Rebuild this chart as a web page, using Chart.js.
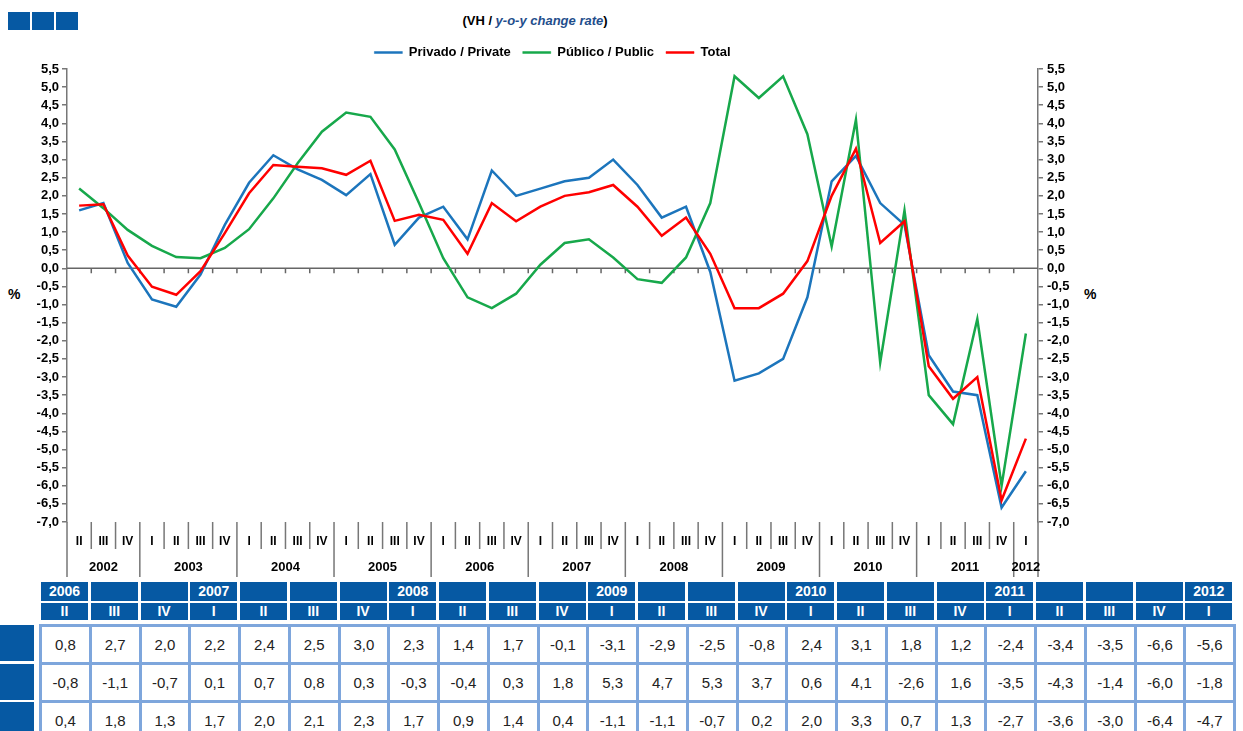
<!DOCTYPE html>
<html>
<head>
<meta charset="utf-8">
<script src="https://cdn.jsdelivr.net/npm/chart.js@4.4.1/dist/chart.umd.min.js"></script>
<style>
  body { margin: 0; background: #fff; font-family: Arial, "Liberation Sans", sans-serif; }
  #wrap { position: relative; width: 1243px; height: 731px; overflow: hidden; }
  #chart { position: absolute; left: 0; top: 0; }
  .sq { position: absolute; top: 12px; width: 22px; height: 18px; background: #0659a3; }
  #title { position: absolute; top: 13px; left: 0; width: 1070px; text-align: center; font-weight: bold; font-size: 13px; color: #000; }
  #title i { color: #1f4e8c; }
  .pct { position: absolute; top: 286px; font-weight: bold; font-size: 14px; }
  .hd { position: absolute; background: #0659a3; color: #fff; font-weight: bold; font-size: 14px; text-align: center; }
  .frame { position: absolute; background: #7ea6dc; }
  .cell { position: absolute; background: #fff; color: #222; font-size: 15px; text-align: center; }
  .rowlab { position: absolute; left: 0; width: 34px; background: #0659a3; }
</style>
</head>
<body>
<div id="wrap">
  <div class="sq" style="left:8px"></div>
  <div class="sq" style="left:32px"></div>
  <div class="sq" style="left:56px"></div>
  <div id="title">(VH / <i>y-o-y change rate</i>)</div>
  <div class="pct" style="left:8px">%</div>
  <div class="pct" style="left:1084px">%</div>
  <canvas id="chart" width="1243" height="580"></canvas>
  <div id="table"></div>
</div>
<script>
// Quarters 2002 II .. 2012 I
const quarters = ['II','III','IV',
  'I','II','III','IV', 'I','II','III','IV', 'I','II','III','IV',
  'I','II','III','IV', 'I','II','III','IV', 'I','II','III','IV',
  'I','II','III','IV', 'I','II','III','IV', 'I','II','III','IV',
  'I'];
const years = ['2002','2003','2004','2005','2006','2007','2008','2009','2010','2011','2012'];

// y-o-y change rate (%)
const privado = [1.6, 1.8, 0.15, -0.86, -1.06, -0.17, 1.2, 2.36, 3.12, 2.73, 2.44, 2.02, 2.6, 0.65, 1.4, 1.7,
  0.8, 2.7, 2.0, 2.2, 2.4, 2.5, 3.0, 2.3, 1.4, 1.7, -0.1, -3.1, -2.9, -2.5, -0.8, 2.4, 3.1, 1.8, 1.2, -2.4, -3.4, -3.5, -6.6, -5.6];
const publico = [2.2, 1.66, 1.06, 0.62, 0.31, 0.28, 0.56, 1.08, 1.93, 2.9, 3.77, 4.3, 4.18, 3.28, 1.8, 0.28,
  -0.8, -1.1, -0.7, 0.1, 0.7, 0.8, 0.3, -0.3, -0.4, 0.3, 1.8, 5.3, 4.7, 5.3, 3.7, 0.6, 4.1, -2.6, 1.6, -3.5, -4.3, -1.4, -6.0, -1.8];
const total = [1.73, 1.77, 0.35, -0.51, -0.73, -0.08, 0.97, 2.07, 2.85, 2.8, 2.76, 2.58, 2.97, 1.31, 1.48, 1.34,
  0.4, 1.8, 1.3, 1.7, 2.0, 2.1, 2.3, 1.7, 0.9, 1.4, 0.4, -1.1, -1.1, -0.7, 0.2, 2.0, 3.3, 0.7, 1.3, -2.7, -3.6, -3.0, -6.4, -4.7];

const tableStart = 16; // table shows 2006 II onwards

// year of each quarter
const yearOf = [];
let yi = 0;
quarters.forEach((q, i) => {
    if (q === 'I' && i > 0) yi++;
    yearOf.push(years[yi]);
});

const fmt = v => v.toFixed(1).replace('.', ',');

// Draws zero line, quarter / year separators and year labels
const axisDecor = {
    id: 'axisDecor',
    beforeDatasetsDraw(chart) {
        const { ctx, chartArea: a, scales: { x, y } } = chart;
        const y0 = y.getPixelForValue(0);
        ctx.save();
        ctx.strokeStyle = '#666';
        ctx.lineWidth = 1.5;
        ctx.beginPath();
        ctx.moveTo(a.left, y0);
        ctx.lineTo(a.right, y0);
        for (let i = 1; i < quarters.length; i++) {
            const bx = (x.getPixelForValue(i - 1) + x.getPixelForValue(i)) / 2;
            ctx.moveTo(bx, y0);
            ctx.lineTo(bx, y0 + 5);
        }
        ctx.stroke();
        ctx.restore();
    },
    afterDraw(chart) {
        const { ctx, chartArea: a, scales: { x } } = chart;
        const bottom = chart.height - 3;
        ctx.save();
        ctx.strokeStyle = '#777';
        ctx.lineWidth = 1.5;
        ctx.beginPath();
        // axis extensions
        ctx.moveTo(a.left, a.bottom); ctx.lineTo(a.left, bottom);
        ctx.moveTo(a.right, a.bottom); ctx.lineTo(a.right, bottom);
        for (let i = 1; i < quarters.length; i++) {
            const bx = (x.getPixelForValue(i - 1) + x.getPixelForValue(i)) / 2;
            ctx.moveTo(bx, a.bottom);
            ctx.lineTo(bx, quarters[i] === 'I' ? bottom : a.bottom + 27);
        }
        ctx.stroke();

        // year labels
        ctx.fillStyle = '#000';
        ctx.font = 'bold 13px Arial, "Liberation Sans", sans-serif';
        ctx.textAlign = 'center';
        ctx.textBaseline = 'middle';
        years.forEach(yr => {
            const idx = yearOf.map((v, i) => v === yr ? i : -1).filter(i => i >= 0);
            const cx = (x.getPixelForValue(idx[0]) + x.getPixelForValue(idx[idx.length - 1])) / 2;
            ctx.fillText(yr, cx, a.bottom + 45);
        });
        ctx.restore();
    }
};

const tickFont = { family: 'Arial, "Liberation Sans", sans-serif', size: 13, weight: 'bold' };

new Chart(document.getElementById('chart'), {
    type: 'line',
    data: {
        labels: quarters,
        datasets: [
            { label: 'Privado / Private', data: privado, borderColor: '#1c75bc', backgroundColor: '#1c75bc', order: 2 },
            { label: 'Público / Public', data: publico, borderColor: '#17a84b', backgroundColor: '#17a84b', order: 1 },
            { label: 'Total', data: total, borderColor: '#ff0000', backgroundColor: '#ff0000', order: 0 }
        ]
    },
    options: {
        responsive: false,
        animation: false,
        layout: { padding: { top: 34, left: 0, right: 0, bottom: 0 } },
        elements: {
            line: { borderWidth: 2.5, tension: 0 },
            point: { radius: 0 }
        },
        plugins: {
            tooltip: { enabled: false },
            legend: {
                fullSize: false,
                labels: {
                    color: '#000',
                    font: tickFont,
                    boxWidth: 28,
                    boxHeight: 2,
                    padding: 12,
                    sort: (p, q) => p.datasetIndex - q.datasetIndex,
                    generateLabels: chart => Chart.defaults.plugins.legend.labels.generateLabels(chart)
                        .map(l => Object.assign(l, { lineWidth: 0.5 }))
                }
            }
        },
        scales: {
            x: {
                offset: true,
                grid: { display: false, drawTicks: false, offset: true },
                border: { display: false },
                ticks: { color: '#000', font: { ...tickFont, size: 12 }, padding: 12, autoSkip: false, maxRotation: 0 },
                afterFit: s => { s.height = 58; }
            },
            y: {
                position: 'left',
                min: -7, max: 5.5,
                grid: { drawOnChartArea: false, tickLength: 5, color: '#777', lineWidth: 1.5 },
                border: { color: '#777', width: 1.5 },
                ticks: { stepSize: 0.5, autoSkip: false, color: '#000', font: tickFont, padding: 3, callback: v => fmt(v) },
                afterFit: s => { s.width = 67; }
            },
            y1: {
                position: 'right',
                min: -7, max: 5.5,
                grid: { drawOnChartArea: false, tickLength: 5, color: '#777', lineWidth: 1.5 },
                border: { color: '#777', width: 1.5 },
                ticks: { stepSize: 0.5, autoSkip: false, color: '#000', font: tickFont, padding: 4, callback: v => fmt(v) },
                afterFit: s => { s.width = 205; }
            }
        }
    },
    plugins: [axisDecor]
});

// Data table (2006 II - 2012 I)
const table = document.getElementById('table');
const pitch = 49.75;
const rows = [privado, publico, total];

function addDiv(cls, style, text) {
    const d = document.createElement('div');
    d.className = cls;
    Object.assign(d.style, style);
    if (text) d.textContent = text;
    table.appendChild(d);
    return d;
}

quarters.slice(tableStart).forEach((q, k) => {
    const i = tableStart + k;
    const left = 41 + k * pitch;
    const showYear = k === 0 || q === 'I';
    addDiv('hd', { left: left + 'px', top: '582px', width: '47px', height: '19px', lineHeight: '19px' }, showYear ? yearOf[i] : '');
    addDiv('hd', { left: left + 'px', top: '603px', width: '47px', height: '17px', lineHeight: '17px' }, q);
});

addDiv('frame', { left: '39px', top: '624px', width: (24 * pitch + 3) + 'px', height: '120px' });
rows.forEach((series, r) => {
    const top = 627 + r * 38;
    addDiv('rowlab', { top: (625 + r * 38.5) + 'px', height: '36px' });
    series.slice(tableStart).forEach((v, k) => {
        addDiv('cell', {
            left: (42 + k * pitch) + 'px', top: top + 'px',
            width: (pitch - 3) + 'px', height: '35px', lineHeight: '35px'
        }, fmt(v));
    });
});
</script>
</body>
</html>
